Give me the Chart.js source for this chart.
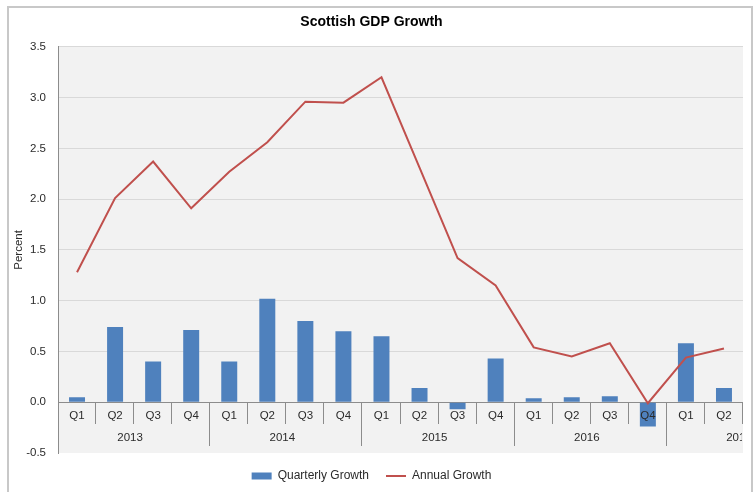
<!DOCTYPE html>
<html>
<head>
<meta charset="utf-8">
<script src="https://cdn.jsdelivr.net/npm/chart.js@4/dist/chart.umd.min.js"></script>
<style>
html, body { margin: 0; padding: 0; background: #fff; }
#wrap { width: 755px; height: 492px; }
</style>
</head>
<body>
<div id="wrap"><canvas id="gdp-chart"></canvas></div>
<script>
const quarter_labels = ["Q1", "Q2", "Q3", "Q4", "Q1", "Q2", "Q3", "Q4", "Q1", "Q2", "Q3", "Q4", "Q1", "Q2", "Q3", "Q4", "Q1", "Q2"];
const years = ["2013", "2014", "2015", "2016", "2017"];
const quarterly_growth = [0.05, 0.74, 0.40, 0.71, 0.40, 1.02, 0.80, 0.70, 0.65, 0.14, -0.07, 0.43, 0.04, 0.05, 0.06, -0.24, 0.58, 0.14];
const annual_growth = [1.28, 2.01, 2.37, 1.91, 2.27, 2.56, 2.96, 2.95, 3.20, 2.31, 1.42, 1.15, 0.54, 0.45, 0.58, -0.01, 0.44, 0.53];

const font_family = "'Liberation Sans', Arial, sans-serif";
const text_colour = '#2b2b2b';

// grey frame round the whole chart and the shaded plot area
const plot_background = {
    id: 'plot_background',
    beforeDraw(chart) {
        const {ctx, chartArea} = chart;
        ctx.save();
        ctx.strokeStyle = '#c8c8c8';
        ctx.lineWidth = 2;
        ctx.strokeRect(8, 7, 744, 500);
        ctx.fillStyle = '#f2f2f2';
        ctx.fillRect(chartArea.left, chartArea.top, chartArea.width, chartArea.height);
        ctx.restore();
    }
};

// quarter / year labels sitting under the zero line, inside the plot
const category_axis = {
    id: 'category_axis',
    afterDatasetsDraw(chart) {
        const {ctx, chartArea, scales} = chart;
        const x = scales.x, y = scales.y;
        const zero = Math.round(y.getPixelForValue(0));
        const step = x.getPixelForValue(1) - x.getPixelForValue(0);

        ctx.save();
        ctx.beginPath();
        ctx.rect(chartArea.left, chartArea.top, chartArea.width + 1, chartArea.height);
        ctx.clip();

        ctx.strokeStyle = '#8c8c8c';
        ctx.lineWidth = 1;
        for (let i = 1; i <= quarter_labels.length; i++) {
            let edge = Math.round(x.getPixelForValue(i) - step / 2) - 0.5;
            let len = (i % 4 == 0) ? 44 : 22;
            ctx.beginPath();
            ctx.moveTo(edge, zero);
            ctx.lineTo(edge, zero + len);
            ctx.stroke();
        }

        ctx.fillStyle = text_colour;
        ctx.font = '11.5px ' + font_family;
        ctx.textAlign = 'center';
        ctx.textBaseline = 'middle';
        quarter_labels.forEach((q, i) => {
            ctx.fillText(q, x.getPixelForValue(i), zero + 14);
        });
        // 2017 runs past the right edge and gets cut like in the original
        ctx.beginPath();
        ctx.rect(chartArea.left, chartArea.top, chartArea.width - 1, chartArea.height);
        ctx.clip();
        years.forEach((yr, j) => {
            ctx.fillText(yr, x.getPixelForValue(j * 4 + 1.5) - 4, zero + 36);
        });
        ctx.restore();
    }
};

let data = {
    labels: quarter_labels,
    datasets: [{
        type: 'bar',
        label: 'Quarterly Growth',
        data: quarterly_growth,
        backgroundColor: '#4f81bd',
        borderWidth: 0,
        barPercentage: 0.42,
        categoryPercentage: 1,
        order: 2
    }, {
        type: 'line',
        label: 'Annual Growth',
        data: annual_growth,
        borderColor: '#c0504d',
        backgroundColor: '#c0504d',
        borderWidth: 2,
        pointRadius: 0,
        tension: 0,
        fill: false,
        order: 1
    }]
};

let config = {
    data: data,
    plugins: [plot_background, category_axis],
    options: {
        responsive: true,
        maintainAspectRatio: false,
        animation: false,
        layout: { padding: { left: 0, right: 12, top: 0, bottom: 0 } },
        plugins: {
            tooltip: { enabled: false },
            title: {
                display: true,
                text: 'Scottish GDP Growth',
                color: '#000',
                font: { family: font_family, size: 14, weight: 'bold' },
                padding: { top: 14, bottom: 16 }
            },
            legend: {
                position: 'bottom',
                labels: {
                    color: text_colour,
                    font: { family: font_family, size: 12 },
                    usePointStyle: true,
                    pointStyleWidth: 20,
                    boxHeight: 7,
                    padding: 17,
                    generateLabels(chart) {
                        return chart.data.datasets.map((ds, i) => ({
                            text: ds.label,
                            datasetIndex: i,
                            fillStyle: ds.type == 'bar' ? ds.backgroundColor : 'transparent',
                            strokeStyle: ds.type == 'bar' ? ds.backgroundColor : ds.borderColor,
                            lineWidth: ds.type == 'bar' ? 0 : 2,
                            pointStyle: ds.type == 'bar' ? 'rect' : 'line',
                            fontColor: text_colour,
                            hidden: false
                        }));
                    }
                }
            }
        },
        scales: {
            x: {
                display: false
            },
            y: {
                min: -0.5,
                max: 3.5,
                afterFit(scale) { scale.width = 58; },
                ticks: {
                    stepSize: 0.5,
                    padding: 12,
                    color: text_colour,
                    font: { family: font_family, size: 11.5 },
                    callback: (v) => v.toFixed(1)
                },
                grid: {
                    drawTicks: false,
                    color: (c) => c.tick.value == 0 ? '#8c8c8c' : (c.tick.value == -0.5 ? 'rgba(0,0,0,0)' : '#d9d9d9')
                },
                border: { display: true, color: '#8c8c8c' },
                title: {
                    display: true,
                    text: 'Percent',
                    color: text_colour,
                    font: { family: font_family, size: 11.5 },
                    padding: { top: 12, bottom: 0 }
                }
            }
        }
    }
};

let gdp_chart = new Chart(document.getElementById('gdp-chart'), config);
</script>
</body>
</html>
